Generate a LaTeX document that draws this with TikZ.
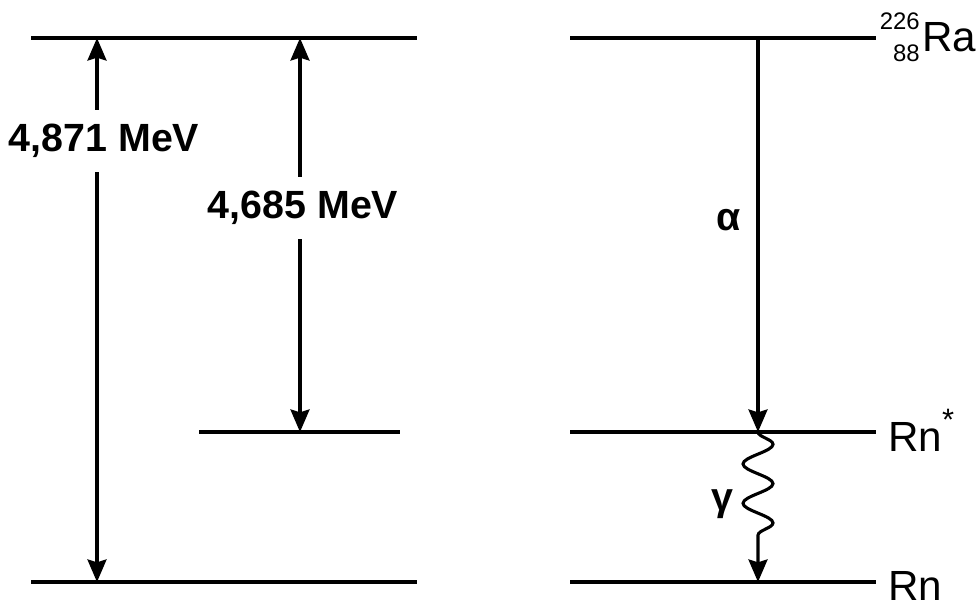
\documentclass[tikz,border=0pt]{standalone}
\usepackage{fontspec}
\setmainfont{Liberation Sans}
\usetikzlibrary{arrows.meta}
\usetikzlibrary{decorations.pathmorphing}

\tikzset{
  >={Stealth[length=16pt, width=13.5pt, inset=2pt]},
  level/.style={line width=2.4pt},
  trans/.style={line width=2.2pt},
  elabel/.style={fill=white, inner xsep=2pt, inner ysep=10pt, font=\fontsize{28}{32}\selectfont\bfseries},
  nuclide/.style={inner sep=0pt, font=\fontsize{30}{34}\selectfont},
  massno/.style={inner sep=0pt, font=\fontsize{17}{17}\selectfont},
  glabel/.style={inner sep=0pt, font=\fontsize{28}{32}\selectfont\bfseries},
}

\begin{document}
\begin{tikzpicture}[x=0.025cm, y=-0.025cm]
\useasboundingbox (0,0) rectangle (976,603);
\def\ytop{38}
\def\ymid{432}
\def\ybot{582}
\def\xa{97}
\def\xb{300}
\def\xc{758}

% energy levels, left
\coordinate (LT1) at (31,\ytop);
\coordinate (LT2) at (417,\ytop);
\coordinate (LM1) at (199,\ymid);
\coordinate (LM2) at (400,\ymid);
\coordinate (LB1) at (31,\ybot);
\coordinate (LB2) at (417,\ybot);

% energy levels, right
\coordinate (RT1) at (570,\ytop);
\coordinate (RT2) at (876,\ytop);
\coordinate (RM1) at (570,\ymid);
\coordinate (RM2) at (876,\ymid);
\coordinate (RB1) at (570,\ybot);
\coordinate (RB2) at (876,\ybot);

\draw[level] (LT1) -- (LT2);
\draw[level] (LM1) -- (LM2);
\draw[level] (LB1) -- (LB2);
\draw[level] (RT1) -- (RT2);
\draw[level] (RM1) -- (RM2);
\draw[level] (RB1) -- (RB2);

% energy differences
\coordinate (E1t) at (\xa,\ytop);
\coordinate (E1b) at (\xa,\ybot);
\coordinate (E2t) at (\xb,\ytop);
\coordinate (E2b) at (\xb,\ymid);
\draw[trans, <->] (E1t) -- (E1b);
\draw[trans, <->] (E2t) -- (E2b);
\node[elabel] (eTot) at (104,141) {4,871 MeV};
\node[elabel] (eAlpha) at (303,208) {4,685 MeV};

% decays
\coordinate (At) at (\xc,\ytop);
\coordinate (Ab) at (\xc,\ymid);
\coordinate (Gb) at (\xc,\ybot);
\draw[trans, ->] (At) -- (Ab);
\draw[trans, ->, decorate, decoration={snake, amplitude=0.375cm, segment length=0.983cm, post length=0.8cm}] (Ab) -- (Gb);
\node[glabel] (alpha) at (729,220) {α};
\node[glabel] (gamma) at (722,504) {γ};

% nuclides
\node[nuclide, anchor=base west] (Ra) at (922,52) {Ra};
\node[massno, anchor=base east] (RaA) at (920,30) {226};
\node[massno, anchor=base east] (RaZ) at (920,62) {88};
\node[nuclide, anchor=base west] (RnEx) at (888,452) {Rn\rlap{\raisebox{15pt}{\fontsize{22}{22}\selectfont *}}};
\node[nuclide, anchor=base west] (Rn) at (888,601) {Rn};
\end{tikzpicture}
\end{document}
